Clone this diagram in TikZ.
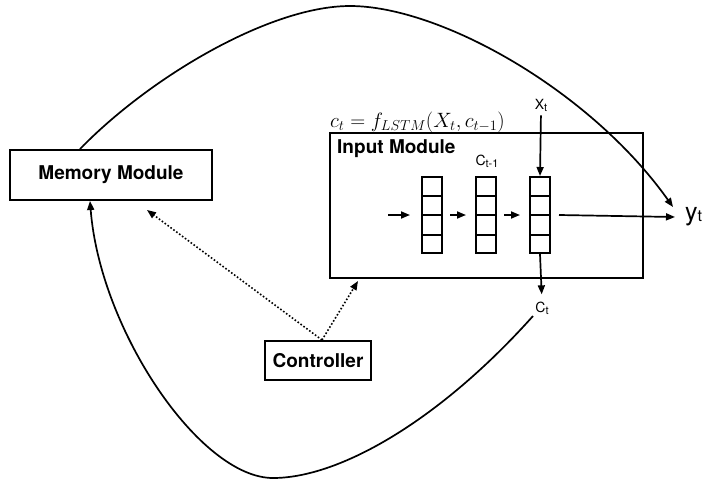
\documentclass[tikz,border=0pt]{standalone}
\usepackage[no-math]{fontspec}
\setmainfont{TeX Gyre Heros}
\usetikzlibrary{arrows.meta,calc}
\newcommand\mysub[1]{\raisebox{-2pt}{\fontsize{11}{11}\selectfont #1}}
\begin{document}
\begin{tikzpicture}[x=1pt,y=-1pt,
  box/.style={draw,line width=2pt,inner sep=0pt},
  lbl/.style={font=\fontsize{19}{19}\selectfont\bfseries},
  cellbox/.style={draw,line width=2pt,minimum width=20pt,minimum height=76pt,inner sep=0pt},
  arr/.style={line width=1.7pt,-{Triangle[length=9pt,width=7pt]}},
  dotarr/.style={line width=1.6pt,dotted,-{Triangle[length=9pt,width=7pt]}},
  small/.style={font=\fontsize{14}{14}\selectfont,inner sep=0pt}]
\useasboundingbox (0,0) rectangle (707,480);
% boxes
\node[box,minimum width=202pt,minimum height=50pt,lbl] (mem) at (111,175) {Memory Module};
\node[box,minimum width=313pt,minimum height=145pt] (inp) at (486.5,205.5) {};
\node[lbl,anchor=base west,inner sep=0pt] (inplbl) at (337,153) {Input Module};
\node[anchor=base west,inner sep=0pt,font=\fontsize{21}{21}\selectfont] (eq) at (330,127) {$c_t = f_{LSTM}(X_t, c_{t-1})$};
\node[box,minimum width=106pt,minimum height=39pt,lbl] (ctrl) at (318,360.5) {Controller};
% cells
\node[cellbox] (c1) at (432,215) {};
\node[cellbox] (c2) at (486,215) {};
\node[cellbox] (c3) at (540,215) {};
\foreach \c in {c1,c2,c3} {
  \foreach \f in {0.25,0.5,0.75}
    \draw[line width=2pt] ($(\c.north west)!\f!(\c.south west)$) -- ($(\c.north east)!\f!(\c.south east)$);
}
% labels
\node[small,anchor=base] (xt) at (541,109) {X\mysub{t}};
\node[small,anchor=base] (ctm) at (487,165) {C\mysub{t-1}};
\node[small,anchor=base] (ct) at (542,312) {C\mysub{t}};
\node[anchor=west,font=\fontsize{25}{25}\selectfont,inner sep=0pt] (yt) at (685,217) {y\raisebox{-1pt}{\fontsize{16}{16}\selectfont t}};
% coordinates
\coordinate (in0) at (388,215);
\coordinate (ytin) at (673,207);
\coordinate (ctout) at (533,316);
\coordinate (memtop) at (80,149);
\coordinate (membot) at (90,201);
\coordinate (memdot) at (147,210);
\coordinate (inpdot) at (358,281);
% connectors
\draw[arr] (in0) -- ([xshift=-11pt]c1.west);
\draw[arr] ([xshift=7pt]c1.east) -- ([xshift=-9pt]c2.west);
\draw[arr] ([xshift=7pt]c2.east) -- ([xshift=-9pt]c3.west);
\draw[arr] ([xshift=8pt]c3.east) -- ([xshift=-10pt]yt.west);
\draw[arr,shorten <=4pt] (xt.south) -- (c3.north);
\draw[arr,shorten >=7pt] (c3.south) -- (ct.north);
\draw[arr] (memtop) .. controls (150,77) and (270,6) .. (350,6) .. controls (440,6) and (590,90) .. (ytin);
\draw[arr] (ctout) .. controls (440,420) and (340,478) .. (273,478) .. controls (200,478) and (100,330) .. (membot);
\draw[dotarr] ([xshift=4pt]ctrl.north) -- (inpdot);
\draw[dotarr] ([xshift=4pt]ctrl.north) -- (memdot);
\end{tikzpicture}
\end{document}
